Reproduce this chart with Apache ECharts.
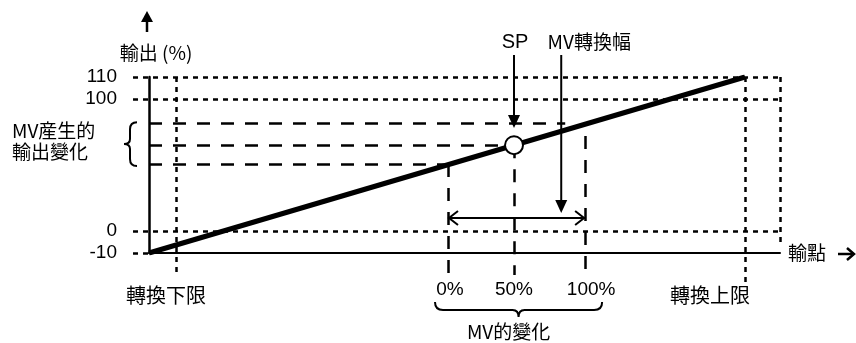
<!DOCTYPE html>
<html><head><meta charset="utf-8">
<script src="https://cdn.jsdelivr.net/npm/echarts@6/dist/echarts.min.js"></script>
<style>html,body{margin:0;padding:0;background:#fff;}#c{width:856px;height:343px;}</style>
</head><body><div id="c"></div>
<script>
// ---- schematic data (x: 轉換下限 = 0, 轉換上限 = 100; y: schematic output positions) ----
const xRange = [-4.75, 106.15];            // x extent of the axis box
const xLimits = [0, 100];                   // 轉換下限, 轉換上限
const xLimitLabels = ['轉換下限', '轉換上限'];
const mvPos = [47.8, 59.4, 71.9];           // MV 0%, 50% (SP), 100%
const mvLabels = ['0%', '50%', '100%'];
const mvSpanX = 67.7;                       // MV轉換幅 arrow
const yTickPos = [0, 1, 7, 8];              // positions of output ticks
const yTickLabels = ['-10', '0', '100', '110'];
const mvOutLevels = [4.05, 4.9, 5.9];       // output levels at MV 0%, SP, upper
const lineX = [-4.75, 100];                 // output line
const lineY = [0, 8];
const leftStubX = -7.56;                    // dotted guides start left of the axis
const guideBottomY = -1.0;                  // guides reach below the axis
const upperLimitBottomY = -1.4;
const boxRightBottomY = 0.35;
const upperDashEndX = 68.4;
const mv100TopY = 5.32;
const arrowTopY = 9.0;
const spTipY = 5.68;
const mvSpanTipY = 1.82;
const mvRangeArrowY = 1.59;

const cjk = "'Noto Sans CJK JP','Noto Sans CJK TC',sans-serif";
const latin = "'Liberation Sans',Arial,sans-serif";

const yLabelMap = {};
yTickPos.forEach((p, i) => { yLabelMap[p] = yTickLabels[i]; });

const dotted = [
  [[leftStubX, yTickPos[3]], [xRange[1], yTickPos[3]]],
  [[leftStubX, yTickPos[2]], [xRange[1], yTickPos[2]]],
  [[leftStubX, yTickPos[1]], [xRange[1], yTickPos[1]]],
  [[leftStubX, yTickPos[0]], [xRange[0], yTickPos[0]]],
  [[xLimits[0], yTickPos[3]], [xLimits[0], guideBottomY]],
  [[xLimits[1], yTickPos[3]], [xLimits[1], upperLimitBottomY]],
  [[xRange[1], yTickPos[3]], [xRange[1], boxRightBottomY]]
];
const dashed = [
  [[xRange[0], mvOutLevels[2]], [upperDashEndX, mvOutLevels[2]]],
  [[xRange[0], mvOutLevels[1]], [mvPos[1], mvOutLevels[1]]],
  [[xRange[0], mvOutLevels[0]], [mvPos[0], mvOutLevels[0]]],
  [[mvPos[0], mvOutLevels[0]], [mvPos[0], guideBottomY]],
  [[mvPos[1], mvOutLevels[1]], [mvPos[1], guideBottomY]],
  [[mvPos[2], mv100TopY], [mvPos[2], guideBottomY]]
];

const chart = echarts.init(document.getElementById('c'), null, {renderer: 'canvas'});

function renderAnno(params, api) {
  const P = (x, y) => api.coord([x, y]);
  const k = '#000';
  const ch = [];
  const txt = (s, x, y, size, fam, align) => ch.push({type: 'text', x: x, y: y,
    style: {text: s, fontSize: size, fontFamily: fam, fill: k, align: align || 'center', verticalAlign: 'middle'}});
  function vArrow(x, y1, y2) {
    const a = P(x, y1), b = P(x, y2);
    const head = 13, hw = 6;
    ch.push({type: 'line', shape: {x1: a[0], y1: a[1], x2: b[0], y2: b[1] - head + 2}, style: {stroke: k, lineWidth: 2}});
    ch.push({type: 'polygon', shape: {points: [[b[0], b[1]], [b[0] - hw, b[1] - head], [b[0] + hw, b[1] - head]]}, style: {fill: k}});
  }
  vArrow(mvPos[1], arrowTopY, spTipY);
  vArrow(mvSpanX, arrowTopY, mvSpanTipY);
  // double arrow MV 0% - 100%
  const l = P(mvPos[0], mvRangeArrowY), r = P(mvPos[2], mvRangeArrowY);
  ch.push({type: 'line', shape: {x1: l[0], y1: l[1], x2: r[0], y2: r[1]}, style: {stroke: k, lineWidth: 2}});
  ch.push({type: 'polyline', shape: {points: [[l[0] + 10, l[1] - 7], [l[0] + 1, l[1]], [l[0] + 10, l[1] + 7]]}, style: {stroke: k, lineWidth: 2, fill: null}});
  ch.push({type: 'polyline', shape: {points: [[r[0] - 10, r[1] - 7], [r[0] - 1, r[1]], [r[0] - 10, r[1] + 7]]}, style: {stroke: k, lineWidth: 2, fill: null}});
  // y axis up arrow + title
  const o = P(xRange[0], yTickPos[3]);
  ch.push({type: 'line', shape: {x1: o[0] - 2, y1: o[1] - 45, x2: o[0] - 2, y2: o[1] - 58}, style: {stroke: k, lineWidth: 2.5}});
  ch.push({type: 'polygon', shape: {points: [[o[0] - 2, o[1] - 66], [o[0] - 8, o[1] - 55], [o[0] + 4, o[1] - 55]]}, style: {fill: k}});
  txt('輸出 (%)', o[0] + 7, o[1] - 24, 19, cjk);
  // left brace
  const bt = P(xRange[0], mvOutLevels[2])[1] - 1, bb = P(xRange[0], mvOutLevels[0])[1] + 2, bm = (bt + bb) / 2;
  const bx = o[0] - 12, bi = o[0] - 19, bp = o[0] - 25;
  ch.push({type: 'path', shape: {pathData:
    `M${bx},${bt} Q${bi},${bt} ${bi},${bt + 7} L${bi},${bm - 5} Q${bi},${bm} ${bp},${bm} Q${bi},${bm} ${bi},${bm + 5} L${bi},${bb - 7} Q${bi},${bb} ${bx},${bb}`},
    style: {stroke: k, lineWidth: 2, fill: null}});
  txt('MV産生的', o[0] - 137, bm - 13, 19, cjk, 'left');
  txt('輸出變化', o[0] - 137, bm + 8, 19, cjk, 'left');
  // SP / MV轉換幅 labels
  const at = P(mvPos[1], arrowTopY);
  txt('SP', at[0] + 1, at[1] - 13, 20, latin);
  txt('MV轉換幅', P(mvSpanX, arrowTopY)[0] + 28, at[1] - 13, 19, cjk);
  // bottom labels
  const gb = P(0, guideBottomY)[1];
  const mvOff = [2, 0, 6];
  mvPos.forEach((x, i) => txt(mvLabels[i], P(x, 0)[0] + mvOff[i], gb + 15, 19, latin));
  const limOff = [-10, -35];
  xLimits.forEach((x, i) => txt(xLimitLabels[i], P(x, 0)[0] + limOff[i], gb + 20, 20, cjk));
  // bottom brace
  const L = P(mvPos[0], 0)[0] - 13, R = P(mvPos[2], 0)[0] + 17, C = (L + R) / 2, T = gb + 27;
  ch.push({type: 'path', shape: {pathData:
    `M${L},${T} Q${L},${T + 8} ${L + 8},${T + 8} L${C - 6},${T + 8} Q${C},${T + 8} ${C},${T + 15} Q${C},${T + 8} ${C + 6},${T + 8} L${R - 8},${T + 8} Q${R},${T + 8} ${R},${T}`},
    style: {stroke: k, lineWidth: 2, fill: null}});
  txt('MV的變化', C - 10, gb + 57, 19, cjk);
  // x axis name
  const xe = P(xRange[1], yTickPos[0]);
  txt('輸點', xe[0] + 8, xe[1], 19, cjk, 'left');
  ch.push({type: 'line', shape: {x1: xe[0] + 58, y1: xe[1] + 1, x2: xe[0] + 72, y2: xe[1] + 1}, style: {stroke: k, lineWidth: 2.5}});
  ch.push({type: 'polyline', shape: {points: [[xe[0] + 67, xe[1] - 5], [xe[0] + 74, xe[1] + 1], [xe[0] + 67, xe[1] + 7]]}, style: {stroke: k, lineWidth: 2.5, fill: null}});
  return {type: 'group', children: ch};
}

chart.setOption({
  animation: false,
  backgroundColor: '#fff',
  grid: {left: 149, right: 76, top: 77, bottom: 90},
  xAxis: {type: 'value', min: xRange[0], max: xRange[1],
    axisLine: {show: true, onZero: false, lineStyle: {color: '#000', width: 2}},
    axisTick: {show: false}, axisLabel: {show: false}, splitLine: {show: false}},
  yAxis: {type: 'value', min: yTickPos[0], max: yTickPos[3], interval: 1,
    axisLine: {show: true, onZero: false, lineStyle: {color: '#000', width: 2.5}},
    axisTick: {show: false}, splitLine: {show: false},
    axisLabel: {margin: 32, color: '#000', fontSize: 19, fontFamily: latin,
      formatter: v => (yLabelMap[v] !== undefined ? yLabelMap[v] : '')}},
  series: [
    {type: 'lines', coordinateSystem: 'cartesian2d', clip: false, silent: true, z: 2,
      lineStyle: {color: '#000', width: 2.5, type: [5, 5], opacity: 1},
      data: dotted.map(c => ({coords: c}))},
    {type: 'lines', coordinateSystem: 'cartesian2d', clip: false, silent: true, z: 2,
      lineStyle: {color: '#000', width: 2.5, type: [13, 11], opacity: 1},
      data: dashed.map(c => ({coords: c}))},
    {type: 'line', data: lineX.map((x, i) => [x, lineY[i]]), symbol: 'none', silent: true, z: 4,
      lineStyle: {color: '#000', width: 5}},
    {type: 'scatter', data: [[mvPos[1], mvOutLevels[1]]], symbol: 'circle', symbolSize: 18, z: 6, silent: true,
      itemStyle: {color: '#fff', borderColor: '#000', borderWidth: 2, opacity: 1}},
    {type: 'custom', data: [[0, 0]], clip: false, silent: true, z: 7, renderItem: renderAnno}
  ]
});
</script>
</body></html>
